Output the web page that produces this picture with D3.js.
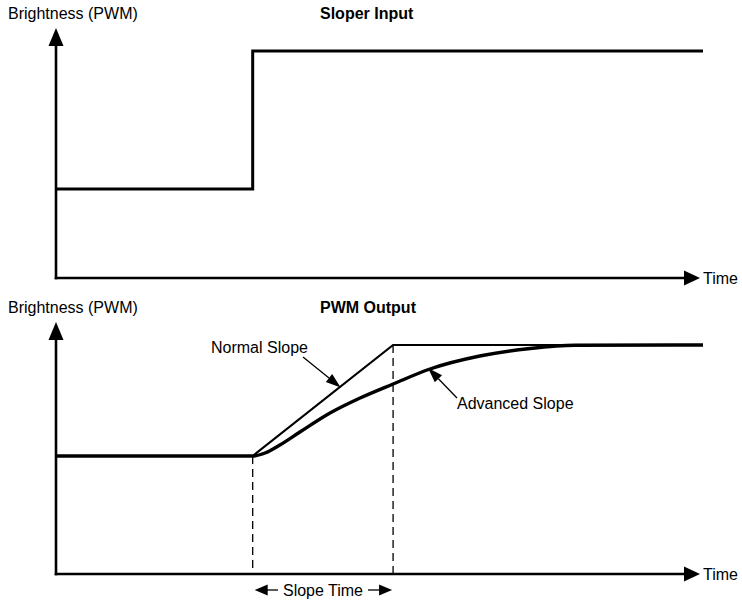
<!DOCTYPE html>
<html><head><meta charset="utf-8">
<script src="https://cdn.jsdelivr.net/npm/d3@7"></script>
<style>body{margin:0;background:#fff}svg{display:block}text{font-family:Arial,"Liberation Sans",sans-serif;fill:#000}</style>
</head><body>
<script>
// ---- data ----
const inputTimes = [0, 30.4, 100];
const inputValues = [35.6, 90.8, 90.8];
const normalTimes = [0, 30.4, 52.1, 100];
const normalValues = [47.2, 47.2, 91.6, 91.6];
const advancedTimes = [0, 30.4, 32.3, 34.6, 37.7, 42.35, 47.0, 52.1, 57.8, 65.5, 73.3, 80.2, 100];
const advancedValues = [47.2, 47.2, 48.4, 51.6, 56.8, 64.4, 70.4, 76.0, 82.0, 87.2, 90.2, 91.5, 91.6];
const slopeStart = 30.4, slopeEnd = 52.1;
const lowLevel = 47.2, highLevel = 91.6;
const titles = ["Sloper Input", "PWM Output"];
const yLabel = "Brightness (PWM)";
const xLabel = "Time";

const W = 742, H = 600;
const svg = d3.select("body").append("svg").attr("width", W).attr("height", H);
const FS = 16;

const x = d3.scaleLinear().domain([0, 100]).range([56, 703]);
const panels = [
  {axisY: 278, top: 28, titleY: 19},
  {axisY: 574, top: 322, titleY: 313}
];
const yScales = panels.map(p => d3.scaleLinear().domain([0, 100]).range([p.axisY, p.axisY - 250]));

function tri(g, pts){ g.append("path").attr("d", "M" + pts.map(p => p.join(",")).join("L") + "Z").attr("fill", "#000"); }

panels.forEach((p, i) => {
  const g = svg.append("g");
  const x0 = x(0);
  g.append("line").attr("x1", x0).attr("x2", x0).attr("y1", p.axisY + 1.3).attr("y2", p.top + 16)
    .attr("stroke", "#000").attr("stroke-width", 2.6);
  g.append("line").attr("x1", x0 - 1.3).attr("x2", 688).attr("y1", p.axisY).attr("y2", p.axisY)
    .attr("stroke", "#000").attr("stroke-width", 2.6);
  tri(g, [[x0, p.top], [x0 - 7.5, p.top + 18], [x0 + 7.5, p.top + 18]]);
  tri(g, [[700, p.axisY], [684, p.axisY - 7.5], [684, p.axisY + 7.5]]);
  g.append("text").attr("x", 703).attr("y", p.axisY + 5.5).attr("font-size", FS).text(xLabel);
  g.append("text").attr("x", 8).attr("y", p.titleY).attr("font-size", FS).text(yLabel);
  g.append("text").attr("x", 320).attr("y", p.titleY).attr("font-size", FS).attr("font-weight", "bold").text(titles[i]);
});

const y0 = yScales[0], y1 = yScales[1];
svg.append("path")
  .datum(inputTimes.map((t, i) => [t, inputValues[i]]))
  .attr("d", d3.line().x(d => x(d[0])).y(d => y0(d[1])).curve(d3.curveStepAfter))
  .attr("fill", "none").attr("stroke", "#000").attr("stroke-width", 3);

// dashed guide lines
svg.append("line").attr("x1", x(slopeStart)).attr("x2", x(slopeStart)).attr("y1", y1(lowLevel)).attr("y2", y1(0))
  .attr("stroke", "#000").attr("stroke-width", 1.3).attr("stroke-dasharray", "8,5");
svg.append("line").attr("x1", x(slopeEnd)).attr("x2", x(slopeEnd)).attr("y1", y1(highLevel)).attr("y2", y1(0))
  .attr("stroke", "#000").attr("stroke-width", 1.3).attr("stroke-dasharray", "8,5");

svg.append("path")
  .datum(advancedTimes.map((t, i) => [t, advancedValues[i]]))
  .attr("d", d3.line().x(d => x(d[0])).y(d => y1(d[1])).curve(d3.curveMonotoneX))
  .attr("fill", "none").attr("stroke", "#000").attr("stroke-width", 3.4);

svg.append("path")
  .datum(normalTimes.map((t, i) => [t, normalValues[i]]))
  .attr("d", d3.line().x(d => x(d[0])).y(d => y1(d[1])))
  .attr("fill", "none").attr("stroke", "#000").attr("stroke-width", 2.2);

function pointer(x1, yA, x2, yB, len, wid){
  const dx = x2 - x1, dy = yB - yA, L = Math.hypot(dx, dy), ux = dx / L, uy = dy / L;
  const bx = x2 - ux * len, by = yB - uy * len;
  svg.append("line").attr("x1", x1).attr("y1", yA).attr("x2", bx).attr("y2", by)
    .attr("stroke", "#000").attr("stroke-width", 1.3);
  tri(svg, [[x2, yB], [bx - uy * wid / 2, by + ux * wid / 2], [bx + uy * wid / 2, by - ux * wid / 2]]);
}
const tN = 44, vN = lowLevel + (tN - slopeStart) / (slopeEnd - slopeStart) * (highLevel - lowLevel);
pointer(303, 357, x(tN), y1(vN) + 1, 15, 10);
svg.append("text").attr("x", 211).attr("y", 353).attr("font-size", FS).text("Normal Slope");
pointer(457, 398, 428, 368, 15, 10);
svg.append("text").attr("x", 457).attr("y", 409).attr("font-size", FS).text("Advanced Slope");

const sy = 590;
svg.append("line").attr("x1", x(slopeStart) + 12).attr("x2", 278).attr("y1", sy).attr("y2", sy).attr("stroke", "#000").attr("stroke-width", 1.3);
tri(svg, [[x(slopeStart) + 2, sy], [x(slopeStart) + 15, sy - 5.5], [x(slopeStart) + 15, sy + 5.5]]);
svg.append("line").attr("x1", 368).attr("x2", x(slopeEnd) - 12).attr("y1", sy).attr("y2", sy).attr("stroke", "#000").attr("stroke-width", 1.3);
tri(svg, [[x(slopeEnd) - 1, sy], [x(slopeEnd) - 14, sy - 5.5], [x(slopeEnd) - 14, sy + 5.5]]);
svg.append("text").attr("x", 323).attr("y", 595.5).attr("font-size", FS).attr("text-anchor", "middle").text("Slope Time");
</script>
</body></html>
